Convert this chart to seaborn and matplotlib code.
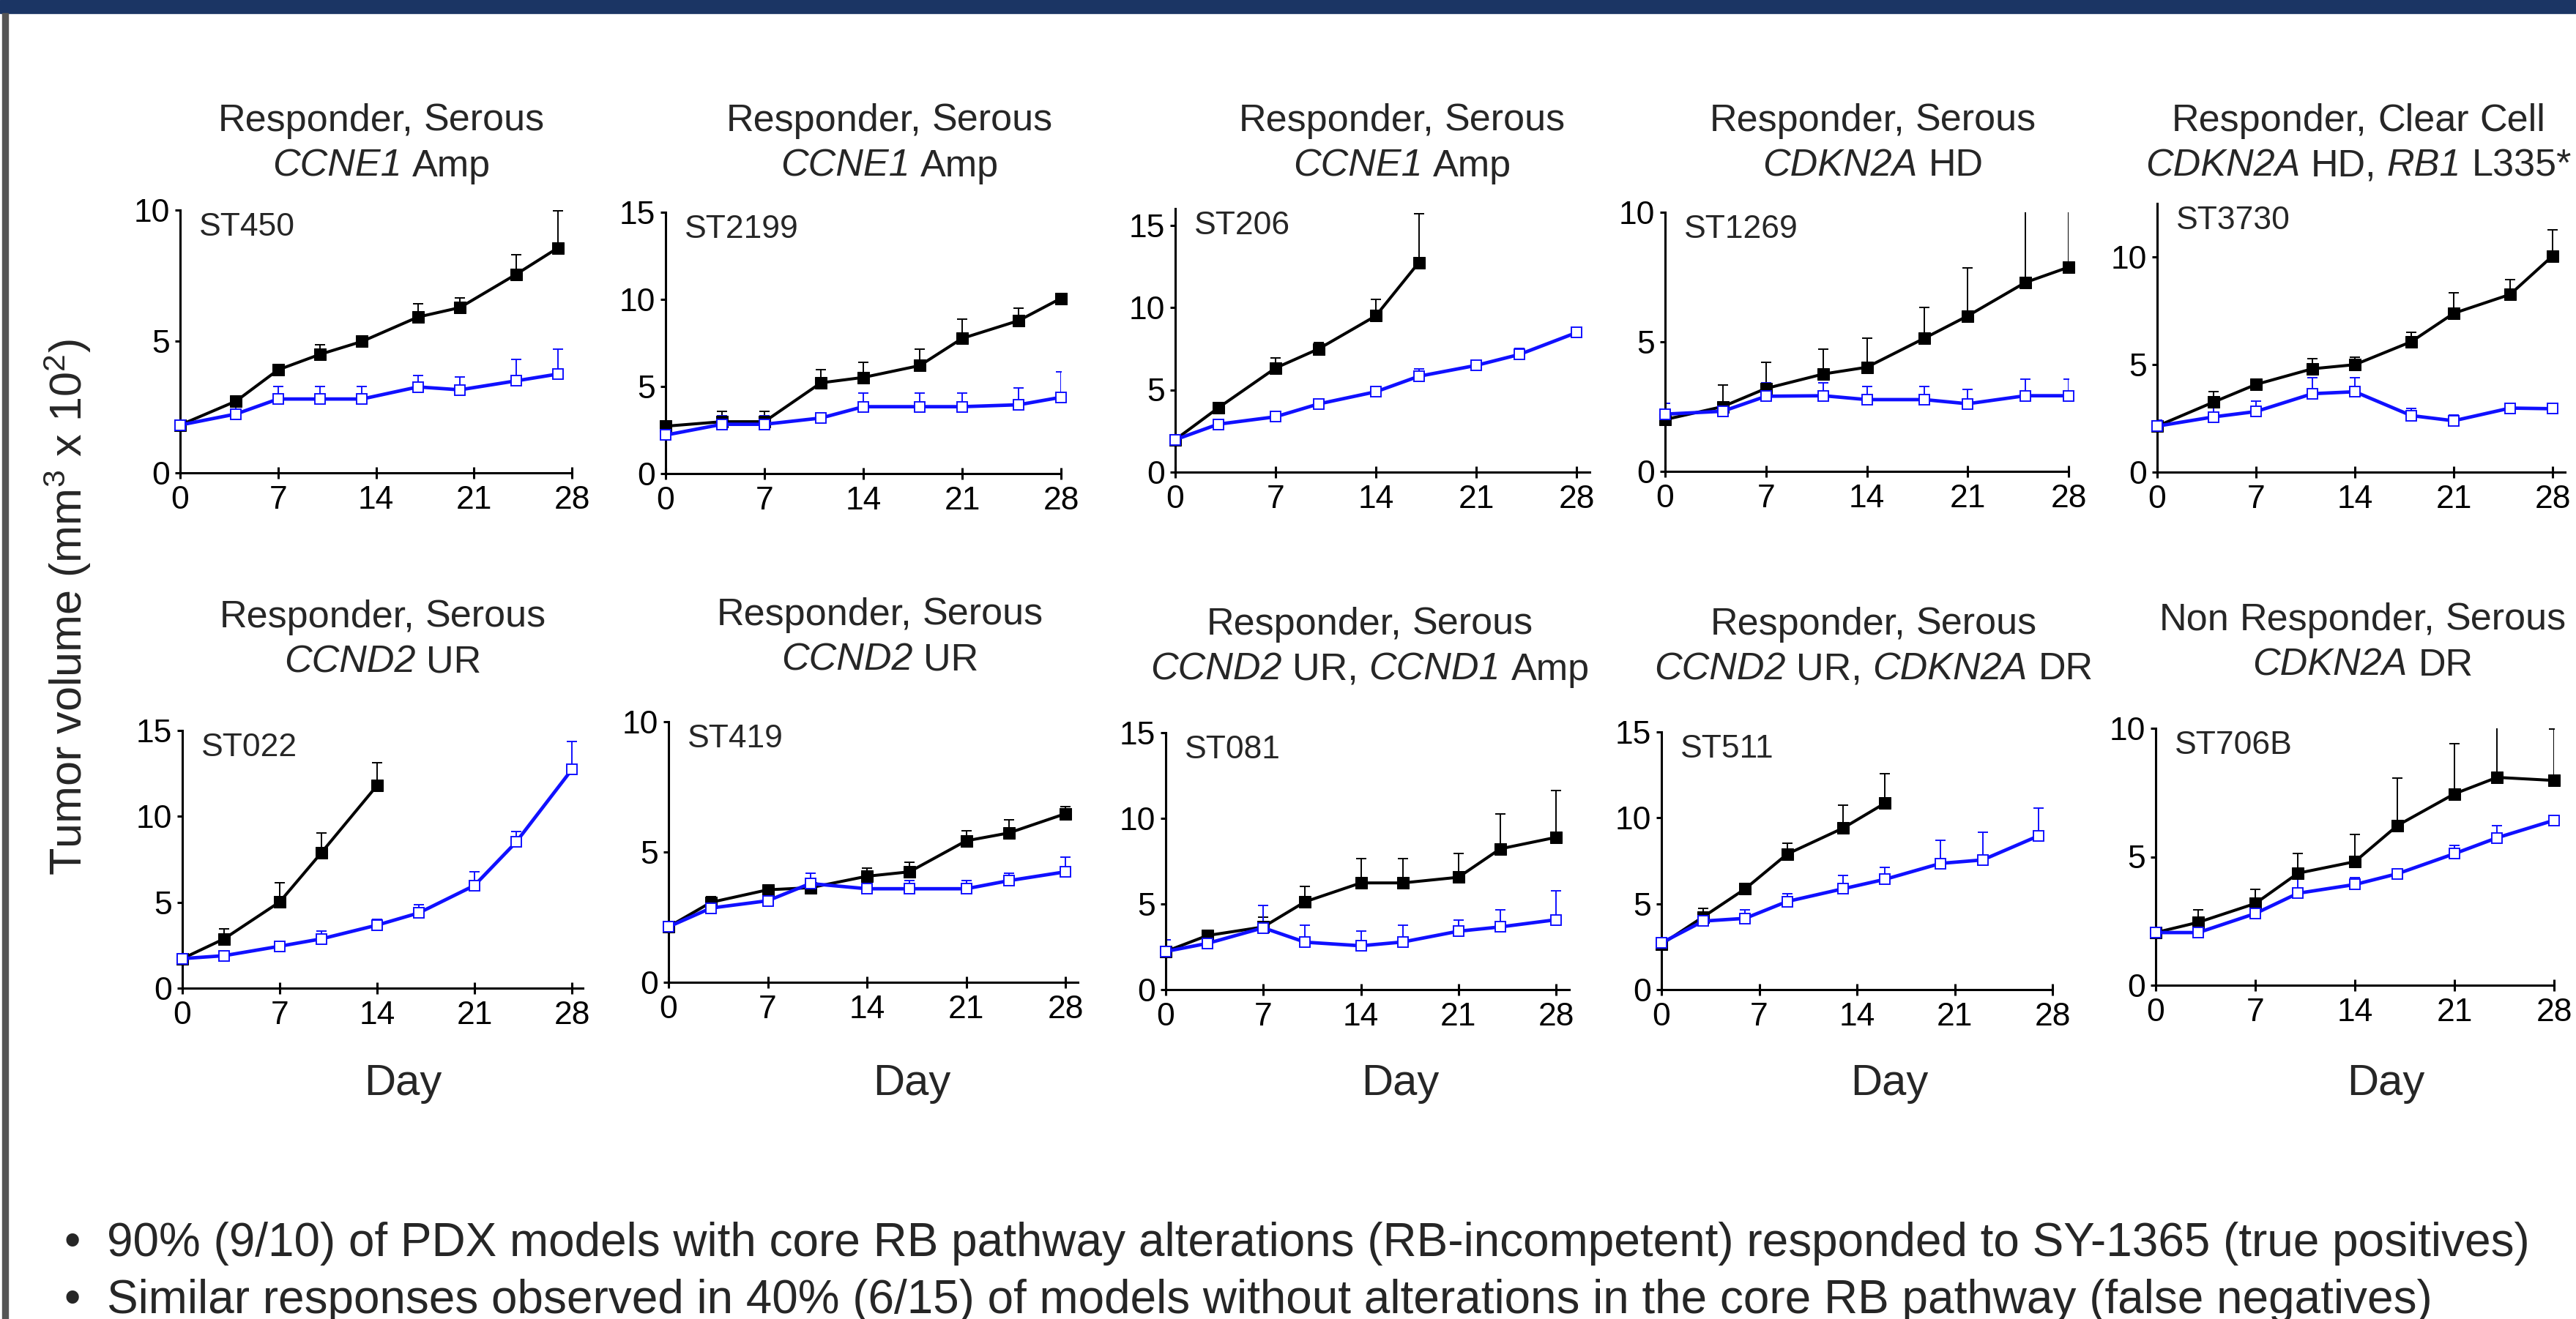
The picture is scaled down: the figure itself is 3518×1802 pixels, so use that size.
import matplotlib
matplotlib.use("Agg")
import matplotlib.pyplot as plt
from matplotlib.patches import Rectangle
import seaborn as sns

# ---- data (tumor volume, mm3 x 10^2) ----
models = ['ST450', 'ST2199', 'ST206', 'ST1269', 'ST3730',
          'ST022', 'ST419', 'ST081', 'ST511', 'ST706B']

# words wrapped in _..._ are gene names and are set in italics
title_top = ['Responder, Serous', 'Responder, Serous', 'Responder, Serous',
             'Responder, Serous', 'Responder, Clear Cell',
             'Responder, Serous', 'Responder, Serous', 'Responder, Serous',
             'Responder, Serous', 'Non Responder, Serous']
title_bottom = ['_CCNE1_ Amp', '_CCNE1_ Amp', '_CCNE1_ Amp',
                '_CDKN2A_ HD', '_CDKN2A_ HD, _RB1_ L335*',
                '_CCND2_ UR', '_CCND2_ UR',
                '_CCND2_ UR, _CCND1_ Amp',
                '_CCND2_ UR, _CDKN2A_ DR',
                '_CDKN2A_ DR']

ymax = [10, 15, 16, 10, 12.5, 15, 10, 15, 15, 10]
xmax = [28, 28, 28.9, 28, 28.9, 28.8, 28.9, 28.95, 28, 28]
day_ticks = [0, 7, 14, 21, 28]

# vehicle (black) and SY-1365 (blue): days, means, upper error
ctrl_days = [[0, 4, 7, 10, 13, 17, 20, 24, 27],
             [0, 4, 7, 11, 14, 18, 21, 25, 28],
             [0, 3, 7, 10, 14, 17],
             [0, 4, 7, 11, 14, 18, 21, 25, 28],
             [0, 4, 7, 11, 14, 18, 21, 25, 28],
             [0, 3, 7, 10, 14],
             [0, 3, 7, 10, 14, 17, 21, 24, 28],
             [0, 3, 7, 10, 14, 17, 21, 24, 28],
             [0, 3, 6, 9, 13, 16],
             [0, 3, 7, 10, 14, 17, 21, 24, 28]]
ctrl_vals = [[1.82, 2.73, 3.92, 4.51, 5.0, 5.93, 6.29, 7.55, 8.56],
             [2.72, 2.98, 2.98, 5.21, 5.52, 6.2, 7.76, 8.78, 10.06],
             [1.97, 3.9, 6.32, 7.48, 9.49, 12.73],
             [2.0, 2.5, 3.2, 3.76, 4.02, 5.14, 6.0, 7.29, 7.88],
             [2.14, 3.26, 4.08, 4.81, 5.0, 6.07, 7.39, 8.27, 10.06],
             [1.72, 2.87, 5.02, 7.89, 11.8],
             [2.13, 3.07, 3.55, 3.63, 4.07, 4.24, 5.43, 5.73, 6.47],
             [2.23, 3.16, 3.66, 5.13, 6.23, 6.23, 6.56, 8.22, 8.89],
             [2.64, 4.24, 5.87, 7.89, 9.4, 10.85],
             [2.05, 2.45, 3.18, 4.36, 4.81, 6.22, 7.45, 8.09, 7.97]]
ctrl_err = [[0.05, 0.1, 0.05, 0.37, 0.1, 0.51, 0.36, 0.75, 1.42],
            [0.3, 0.58, 0.58, 0.77, 0.87, 0.94, 1.09, 0.73, 0.1],
            [0.05, 0.1, 0.62, 0.4, 0.99, 2.97],
            [0.1, 0.84, 1.0, 0.96, 1.12, 1.2, 1.86, 3.0, 2.8],
            [0.1, 0.48, 0.1, 0.48, 0.34, 0.44, 0.95, 0.7, 1.21],
            [0.05, 0.59, 1.13, 1.16, 1.31],
            [0.05, 0.22, 0.1, 0.1, 0.3, 0.38, 0.38, 0.52, 0.26],
            [0.05, 0.1, 0.59, 0.89, 1.4, 1.4, 1.4, 2.02, 2.73],
            [0.05, 0.5, 0.1, 0.64, 1.34, 1.71],
            [0.05, 0.48, 0.54, 0.76, 1.07, 1.85, 1.95, 2.3, 2.0]]

trt_days = [[0, 4, 7, 10, 13, 17, 20, 24, 27],
            [0, 4, 7, 11, 14, 18, 21, 25, 28],
            [0, 3, 7, 10, 14, 17, 21, 24, 28],
            [0, 4, 7, 11, 14, 18, 21, 25, 28],
            [0, 4, 7, 11, 14, 18, 21, 25, 28],
            [0, 3, 7, 10, 14, 17, 21, 24, 28],
            [0, 3, 7, 10, 14, 17, 21, 24, 28],
            [0, 3, 7, 10, 14, 17, 21, 24, 28],
            [0, 3, 6, 9, 13, 16, 20, 23, 27],
            [0, 3, 7, 10, 14, 17, 21, 24, 28]]
trt_vals = [[1.82, 2.24, 2.81, 2.81, 2.81, 3.27, 3.16, 3.5, 3.76],
            [2.21, 2.83, 2.83, 3.19, 3.84, 3.84, 3.84, 3.95, 4.38],
            [1.97, 2.91, 3.36, 4.14, 4.88, 5.82, 6.48, 7.14, 8.47],
            [2.21, 2.32, 2.9, 2.92, 2.77, 2.77, 2.61, 2.92, 2.92],
            [2.14, 2.57, 2.82, 3.65, 3.74, 2.63, 2.39, 2.98, 2.95],
            [1.72, 1.89, 2.44, 2.87, 3.67, 4.38, 5.98, 8.51, 12.73],
            [2.13, 2.85, 3.13, 3.79, 3.59, 3.59, 3.59, 3.9, 4.24],
            [2.23, 2.7, 3.61, 2.77, 2.56, 2.78, 3.41, 3.66, 4.08],
            [2.72, 3.99, 4.15, 5.13, 5.87, 6.42, 7.35, 7.55, 8.95],
            [2.05, 2.05, 2.79, 3.58, 3.92, 4.34, 5.12, 5.74, 6.42]]
trt_err = [[0.0, 0.4, 0.49, 0.49, 0.49, 0.44, 0.5, 0.83, 0.96],
           [0.05, 0.47, 0.47, 0.1, 0.78, 0.78, 0.78, 0.98, 1.48],
           [0.05, 0.05, 0.1, 0.1, 0.1, 0.43, 0.1, 0.36, 0.2],
           [0.42, 0.1, 0.52, 0.5, 0.52, 0.52, 0.54, 0.65, 0.65],
           [0.28, 0.63, 0.5, 0.76, 0.67, 0.35, 0.28, 0.1, 0.1],
           [0.05, 0.1, 0.1, 0.45, 0.33, 0.46, 0.8, 0.59, 1.63],
           [0.05, 0.1, 0.24, 0.39, 0.31, 0.31, 0.31, 0.28, 0.55],
           [0.67, 0.1, 1.32, 0.98, 0.85, 0.97, 0.67, 0.98, 1.69],
           [0.1, 0.1, 0.51, 0.45, 0.77, 0.68, 1.34, 1.6, 1.63],
           [0.05, 0.05, 0.1, 0.7, 0.27, 0.1, 0.31, 0.48, 0.11]]

bullets = ['90% (9/10) of PDX models with core RB pathway alterations (RB-incompetent) '
           'responded to SY-1365 (true positives)',
           'Similar responses observed in 40% (6/15) of models without alterations '
           'in the core RB pathway (false negatives)']

# ---- layout in pixels of the 3518 x 1802 canvas ----
W, H = 3518, 1802
ax_left = [246, 909, 1605, 2274, 2946, 249, 913, 1592, 2269, 2944]
ax_x28 = [781, 1449, 2153, 2825, 3486, 781, 1455, 2125, 2803, 3488]
ax_zero = [646, 647, 645, 644, 645, 1350, 1342, 1352, 1352, 1346]
ax_top = [287, 290, 285, 290, 278, 998, 986, 1001, 1000, 995]
title_x = [521, 1215, 1915, 2558, 3221, 523, 1202, 1871, 2559, 3227]
title_y1 = [165, 165, 165, 165, 165, 843, 840, 853, 853, 847]
day_x = [550, 1245, 1912, 2580, 3258]

BLUE = '#1010ff'
NAVY = '#1b3564'
TITLE_SIZE = 37.5

sns.set_theme(style='ticks')
plt.rcParams['font.family'] = ['Liberation Sans', 'DejaVu Sans']
plt.rcParams['mathtext.fontset'] = 'custom'
plt.rcParams['mathtext.rm'] = 'Liberation Sans'
plt.rcParams['mathtext.it'] = 'Liberation Sans:italic'


def rich_line(fig, cx, cy, line, size):
    # draws a line of words centred at (cx, cy) px, _word_ in italics
    renderer = fig.canvas.get_renderer()
    probe1 = fig.text(0, 0, 'a a', fontsize=size)
    probe2 = fig.text(0, 0, 'aa', fontsize=size)
    space = probe1.get_window_extent(renderer).width - probe2.get_window_extent(renderer).width
    probe1.remove()
    probe2.remove()

    words = []
    for w in line.split(' '):
        if w.startswith('_') and w.endswith('_'):
            words.append((w[1:-1], 'italic'))
        else:
            words.append((w, 'normal'))
    texts, widths = [], []
    for w, style in words:
        t = fig.text(0, 1 - cy / H, w, fontsize=size, style=style, ha='left', va='center')
        texts.append(t)
        widths.append(t.get_window_extent(renderer).width)
    total = sum(widths) + space * (len(words) - 1)
    x = cx - total / 2
    for t, wd in zip(texts, widths):
        t.set_x(x / W)
        x += wd + space


def draw_panel(ax, i):
    # vehicle group: black filled squares
    ax.errorbar(ctrl_days[i], ctrl_vals[i], yerr=[[0] * len(ctrl_err[i]), ctrl_err[i]],
                fmt='none', ecolor='black', elinewidth=1.4, capsize=5, capthick=1.4, zorder=2)
    sns.lineplot(x=ctrl_days[i], y=ctrl_vals[i], ax=ax, color='black', linewidth=2.9,
                 marker='s', markersize=12, markeredgecolor='black', markerfacecolor='black',
                 clip_on=False, zorder=3)
    # SY-1365 group: blue open squares
    ax.errorbar(trt_days[i], trt_vals[i], yerr=[[0] * len(trt_err[i]), trt_err[i]],
                fmt='none', ecolor=BLUE, elinewidth=1.4, capsize=5, capthick=1.4, zorder=2)
    sns.lineplot(x=trt_days[i], y=trt_vals[i], ax=ax, color=BLUE, linewidth=3.4,
                 marker='s', markersize=10, markeredgecolor=BLUE, markerfacecolor='white',
                 markeredgewidth=1.4, clip_on=False, zorder=4)

    ax.set_xlim(0, xmax[i])
    ax.set_ylim(0, ymax[i])
    ax.set_xticks(day_ticks)
    ax.set_yticks([v for v in [0, 5, 10, 15] if v <= ymax[i]])
    ax.set_xlabel('')
    ax.set_ylabel('')
    for side in ['top', 'right']:
        ax.spines[side].set_visible(False)
    for side in ['left', 'bottom']:
        ax.spines[side].set_linewidth(2.2)
        ax.spines[side].set_color('black')
    ax.tick_params(axis='x', direction='inout', length=12, width=2.2, pad=6,
                   labelsize=32, colors='black')
    ax.tick_params(axis='y', direction='out', length=5, width=2.2, pad=5,
                   labelsize=32, colors='black')
    ax.patch.set_alpha(0)
    ax.annotate(models[i], xy=(0, 1), xycoords='axes fraction', xytext=(19, -17),
                textcoords='offset points', ha='left', va='center', fontsize=32)


fig = plt.figure(figsize=(W / 100, H / 100), dpi=100)
fig.patch.set_facecolor('white')

# header band and left border of the slide
fig.patches.append(Rectangle((0, 1 - 18 / H), 1, 18 / H, transform=fig.transFigure,
                             color=NAVY, zorder=0))
fig.patches.append(Rectangle((3 / W, 0), 8 / W, 1 - 18 / H, transform=fig.transFigure,
                             color='#555555', zorder=0))

for i in range(len(models)):
    right = ax_left[i] + (ax_x28[i] - ax_left[i]) * xmax[i] / 28
    ax = fig.add_axes([ax_left[i] / W, 1 - ax_zero[i] / H,
                       (right - ax_left[i]) / W, (ax_zero[i] - ax_top[i]) / H])
    draw_panel(ax, i)
    rich_line(fig, title_x[i], title_y1[i], title_top[i], TITLE_SIZE)
    rich_line(fig, title_x[i], title_y1[i] + 62, title_bottom[i], TITLE_SIZE)

for x in day_x:
    fig.text(x / W, 1 - 1481 / H, 'Day', ha='center', va='center', fontsize=43)

fig.text(92 / W, 1 - 830 / H, r'Tumor volume (mm$^3$ x 10$^2$)', rotation=90,
         ha='center', va='center', fontsize=44)

for k, line in enumerate(bullets):
    y = 1 - (1699 + 78 * k) / H
    fig.text(88 / W, y, '\u2022', ha='left', va='center', fontsize=46)
    fig.text(146 / W, y, line, ha='left', va='center', fontsize=46)

fig.savefig('out.png', dpi=100)
